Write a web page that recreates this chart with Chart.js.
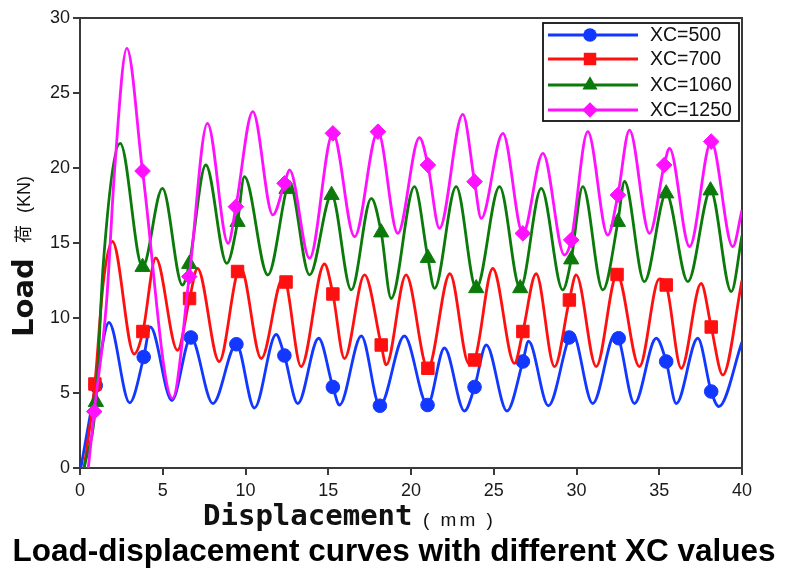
<!DOCTYPE html>
<html>
<head>
<meta charset="utf-8">
<script src="https://cdn.jsdelivr.net/npm/chart.js@4/dist/chart.umd.min.js"></script>
<style>
html,body{margin:0;padding:0;background:#fff;}
#wrap{width:787px;height:570px;position:relative;}
</style>
</head>
<body>
<div id="wrap"><canvas id="c" width="787" height="570"></canvas></div>
<script>
// ---------- data ----------
const seriesLabels = ['XC=500', 'XC=700', 'XC=1060', 'XC=1250'];
const xTickValues = [0, 5, 10, 15, 20, 25, 30, 35, 40];
const yTickValues = [0, 5, 10, 15, 20, 25, 30];
const xTitle = 'Displacement';
const xUnit = '( mm )';
const yTitleMain = 'Load';
const yTitleCJK = '荷';
const yUnit = '(KN)';
const caption = 'Load-displacement curves with different XC values';

const xc500Curve = [[0.05,0],[1.75,9.7],[3.0,4.35],[4.25,9.4],[5.55,4.5],[8.03,4.3],[10.54,4.0],[11.85,8.9],[13.16,4.3],[14.42,8.65],[15.68,4.2],[17.0,8.8],[19.6,8.8],[22.02,8.0],[23.23,3.8],[24.55,8.2],[25.8,3.8],[27.1,8.45],[28.3,4.15],[29.75,9.0],[30.98,4.3],[32.35,8.95],[33.5,4.3],[34.82,8.65],[36.03,4.3],[37.33,8.65],[38.6,4.1],[40,8.4]];
const xc500Markers = [[0.95,5.5],[3.85,7.4],[6.7,8.7],[9.45,8.25],[12.35,7.5],[15.28,5.4],[18.12,4.15],[21.0,4.2],[23.84,5.4],[26.76,7.1],[29.55,8.7],[32.55,8.65],[35.42,7.1],[38.14,5.1]];

const xc700Curve = [[0.25,0],[1.4,12.3],[1.96,15.1],[3.27,7.6],[4.58,14.0],[5.89,7.85],[7.1,13.3],[8.41,7.1],[9.72,13.3],[10.95,7.3],[12.26,12.65],[13.36,6.76],[14.77,13.6],[15.98,7.3],[17.19,12.87],[18.5,6.87],[19.7,12.87],[22.35,12.95],[23.5,6.95],[24.94,13.3],[26.25,6.98],[27.56,12.95],[28.67,6.76],[29.98,12.87],[31.19,6.76],[33.8,6.76],[35.0,12.6],[36.33,6.64],[37.53,12.3],[38.84,6.2],[40,12.5]];
const xc700Markers = [[0.9,5.6],[3.8,9.1],[6.62,11.3],[9.52,13.1],[12.45,12.4],[15.28,11.6],[18.2,8.2],[21.02,6.65],[23.84,7.2],[26.76,9.1],[29.57,11.2],[32.45,12.9],[35.42,12.2],[38.14,9.4]];

const xc1060Curve = [[0.25,0],[1.4,13.5],[2.43,21.64],[4.98,18.64],[6.19,12.2],[7.6,20.2],[8.87,13.64],[9.93,19.42],[11.35,12.87],[12.64,19.1],[13.87,12.87],[16.39,11.87],[17.6,17.98],[18.8,11.3],[20.21,18.76],[21.42,11.98],[22.73,18.76],[25.35,18.76],[27.87,18.64],[29.17,11.87],[30.38,18.76],[31.59,11.87],[32.9,19.1],[34.1,12.42],[36.73,12.42],[39.35,11.76],[40,15.5]];
const xc1060Markers = [[0.96,4.4],[3.78,13.4],[6.6,13.6],[9.52,16.4],[12.48,18.6],[15.2,18.2],[18.2,15.7],[21.02,14.0],[23.94,11.98],[26.6,11.98],[29.68,13.9],[32.5,16.4],[35.42,18.3],[38.1,18.5]];

const xc1250Curve = [[0.5,0],[1.6,11.0],[2.1,20.0],[2.83,27.98],[5.59,4.64],[7.7,22.98],[8.95,14.98],[10.44,23.76],[11.65,16.87],[12.66,19.87],[13.87,13.98],[16.59,15.42],[19.2,15.64],[20.51,22.02],[21.72,15.98],[23.13,23.58],[24.24,16.64],[25.55,22.31],[27.97,20.98],[29.27,14.2],[30.68,22.42],[31.89,15.53],[33.2,22.53],[34.41,15.64],[35.62,21.31],[36.83,14.76],[39.44,14.76],[40,17.2]];
const xc1250Markers = [[0.86,3.76],[3.78,19.8],[6.6,12.76],[9.42,17.42],[12.36,18.98],[15.28,22.31],[18.0,22.42],[21.02,20.2],[23.84,19.09],[26.76,15.64],[29.68,15.2],[32.5,18.2],[35.3,20.2],[38.14,21.76]];

// ---------- styles ----------
const colors = ['#1238ff', '#ff1010', '#0b7a0b', '#ff10ff'];
const pointStyles = ['circle', 'rect', 'triangle', 'rectRot'];
const pointSizes = [6.8, 8.8, 8.8, 7.8];

function merge(curve, markers) {
  const pts = curve.map(p => ({x: p[0], y: p[1], m: false}))
    .concat(markers.map(p => ({x: p[0], y: p[1], m: true})));
  pts.sort((a, b) => a.x - b.x);
  return pts;
}
const allCurves = [xc500Curve, xc700Curve, xc1060Curve, xc1250Curve];
const allMarkers = [xc500Markers, xc700Markers, xc1060Markers, xc1250Markers];

const datasets = seriesLabels.map((lab, i) => ({
  label: lab,
  data: merge(allCurves[i], allMarkers[i]),
  borderColor: colors[i],
  backgroundColor: colors[i],
  pointBackgroundColor: colors[i],
  pointBorderColor: colors[i],
  pointBorderWidth: 1,
  pointStyle: pointStyles[i],
  pointRadius: c => (c.raw && c.raw.m) ? pointSizes[i] : 0,
  pointHoverRadius: 0,
  borderWidth: 2.8,
  cubicInterpolationMode: 'monotone',
  fill: false,
  order: 3 - i
}));

function drawMarker(ctx, style, x, y, r, color) {
  ctx.fillStyle = color;
  ctx.beginPath();
  if (style === 'circle') {
    ctx.arc(x, y, r, 0, Math.PI * 2);
  } else if (style === 'rect') {
    const s = Math.SQRT1_2 * r;
    ctx.rect(x - s, y - s, 2 * s, 2 * s);
  } else if (style === 'triangle') {
    for (let k = 0; k < 3; k++) {
      const a = k * 2 * Math.PI / 3;
      const px = x + Math.sin(a) * r, py = y - Math.cos(a) * r;
      if (k === 0) ctx.moveTo(px, py); else ctx.lineTo(px, py);
    }
    ctx.closePath();
  } else {
    ctx.moveTo(x, y - r); ctx.lineTo(x + r, y); ctx.lineTo(x, y + r); ctx.lineTo(x - r, y);
    ctx.closePath();
  }
  ctx.fill();
}

const framePlugin = {
  id: 'frame',
  beforeDatasetsDraw(chart) {
    const {ctx, chartArea: a} = chart;
    ctx.save();
    ctx.strokeStyle = '#3a3a3a';
    ctx.lineWidth = 2;
    ctx.strokeRect(a.left, a.top, a.right - a.left, a.bottom - a.top);
    ctx.restore();
  }
};

const legendPlugin = {
  id: 'boxLegend',
  afterDraw(chart) {
    const {ctx, chartArea: a} = chart;
    const l = a.right - 199, t = a.top + 5, w = 196, h = 98;
    ctx.save();
    ctx.fillStyle = '#fff';
    ctx.fillRect(l, t, w, h);
    ctx.strokeStyle = '#111';
    ctx.lineWidth = 1.8;
    ctx.strokeRect(l, t, w, h);
    const rows = [12, 36, 62, 87];
    seriesLabels.forEach((lab, i) => {
      const y = t + rows[i];
      ctx.strokeStyle = colors[i];
      ctx.lineWidth = 2.8;
      ctx.beginPath(); ctx.moveTo(l + 5, y); ctx.lineTo(l + 95, y); ctx.stroke();
      drawMarker(ctx, pointStyles[i], l + 47, y, pointSizes[i], colors[i]);
      ctx.fillStyle = '#111';
      ctx.font = '19.5px "Liberation Sans", Arial, sans-serif';
      ctx.textBaseline = 'middle';
      ctx.textAlign = 'left';
      ctx.fillText(lab, l + 107, y + 1);
    });
    ctx.restore();
  }
};

const titlesPlugin = {
  id: 'titles',
  afterDraw(chart) {
    const ctx = chart.ctx;
    ctx.save();
    ctx.fillStyle = '#111';
    ctx.textAlign = 'left';
    ctx.textBaseline = 'alphabetic';
    // x title
    ctx.font = 'bold 29px "DejaVu Sans Mono", monospace';
    ctx.fillText(xTitle, 203, 525);
    ctx.font = '19px "Liberation Sans", Arial, sans-serif';
    try { ctx.letterSpacing = '3px'; } catch (e) {}
    ctx.fillText(xUnit, 423, 526);
    try { ctx.letterSpacing = '0px'; } catch (e) {}
    // y title (rotated)
    ctx.save();
    ctx.translate(33, 337);
    ctx.rotate(-Math.PI / 2);
    ctx.font = 'bold 29px "DejaVu Sans", sans-serif';
    ctx.fillText(yTitleMain, 0, 0);
    ctx.font = '18px "Noto Sans CJK SC", sans-serif';
    ctx.fillText(yTitleCJK, 94, -3);
    ctx.font = '18px "Liberation Sans", Arial, sans-serif';
    ctx.fillText(yUnit, 124, -3.5);
    ctx.restore();
    // caption
    ctx.fillStyle = '#000';
    ctx.font = 'bold 31.5px "Liberation Sans", Arial, sans-serif';
    ctx.textAlign = 'center';
    ctx.fillText(caption, 394, 561);
    ctx.restore();
  }
};

const tickFont = {family: '"Liberation Sans", Arial, sans-serif', size: 18};

new Chart(document.getElementById('c'), {
  type: 'line',
  data: {datasets},
  options: {
    responsive: false,
    animation: false,
    devicePixelRatio: 1,
    events: [],
    layout: {padding: {top: 18, right: 45, left: 0, bottom: 0}},
    plugins: {legend: {display: false}, tooltip: {enabled: false}},
    scales: {
      x: {
        type: 'linear', min: 0, max: 40,
        afterBuildTicks: s => { s.ticks = xTickValues.map(v => ({value: v})); },
        afterFit: s => { s.height = 102; },
        ticks: {font: tickFont, color: '#1a1a1a', padding: 5, maxRotation: 0, autoSkip: false},
        grid: {drawOnChartArea: false, drawTicks: true, tickLength: 7, color: '#3a3a3a', lineWidth: 2},
        border: {display: true, color: '#3a3a3a', width: 2}
      },
      y: {
        type: 'linear', min: 0, max: 30,
        afterBuildTicks: s => { s.ticks = yTickValues.map(v => ({value: v})); },
        afterFit: s => { s.width = 80; },
        ticks: {font: tickFont, color: '#1a1a1a', padding: 3, autoSkip: false},
        grid: {drawOnChartArea: false, drawTicks: true, tickLength: 7, color: '#3a3a3a', lineWidth: 2},
        border: {display: true, color: '#3a3a3a', width: 2}
      }
    }
  },
  plugins: [framePlugin, legendPlugin, titlesPlugin]
});
</script>
</body>
</html>
